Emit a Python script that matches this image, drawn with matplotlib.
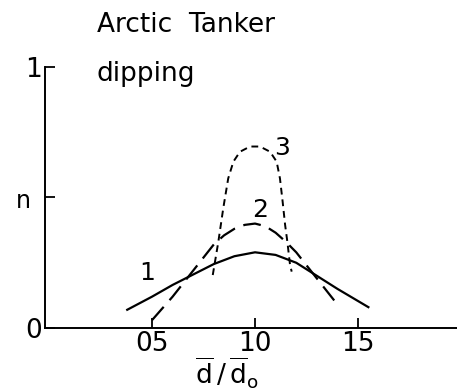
import matplotlib
matplotlib.use("Agg")
import matplotlib.pyplot as plt

# curve 1 (solid)
x1 = [0.38, 0.50, 0.60, 0.70, 0.80, 0.90, 1.00, 1.10, 1.20, 1.30, 1.40, 1.55]
y1 = [0.07, 0.12, 0.165, 0.205, 0.245, 0.275, 0.29, 0.28, 0.25, 0.20, 0.15, 0.08]

# curve 2 (long dashes)
x2 = [0.50, 0.60, 0.70, 0.80, 0.85, 0.90, 0.95, 1.00, 1.05, 1.10, 1.15, 1.20, 1.30, 1.40]
y2 = [0.03, 0.12, 0.22, 0.32, 0.355, 0.38, 0.395, 0.40, 0.39, 0.365, 0.33, 0.29, 0.19, 0.09]

# curve 3 (short dashes)
x3 = [0.795, 0.822, 0.846, 0.870, 0.895, 0.927, 0.976, 1.024, 1.073, 1.105, 1.121,
      1.134, 1.146, 1.157, 1.170, 1.178]
y3 = [0.203, 0.33, 0.459, 0.573, 0.637, 0.675, 0.695, 0.695, 0.675, 0.637, 0.573,
      0.484, 0.395, 0.33, 0.241, 0.216]

xticks = [0.5, 1.0, 1.5]
xticklabels = ["05", "10", "15"]
yticks = [0, 0.5, 1]
yticklabels = ["0", "", "1"]

fig = plt.figure(figsize=(4.57, 3.91), dpi=100)
ax = fig.add_axes([0.098, 0.161, 0.902, 0.668])

ax.plot(x1, y1, color="black", lw=1.6)
ax.plot(x2, y2, color="black", lw=1.6, dashes=(8, 4))
ax.plot(x3, y3, color="black", lw=1.4, dashes=(3.5, 2.5))

ax.set_xlim(-0.02, 1.98)
ax.set_ylim(0, 1)
ax.spines["top"].set_visible(False)
ax.spines["right"].set_visible(False)
ax.spines["left"].set_linewidth(1.4)
ax.spines["bottom"].set_linewidth(1.4)

ax.set_xticks(xticks)
ax.set_xticklabels(xticklabels, fontsize=19)
ax.set_yticks(yticks)
ax.set_yticklabels(yticklabels, fontsize=19)
ax.tick_params(direction="in", length=7, width=1.3, pad=2)

ax.text(0.475, 0.21, "1", fontsize=18, ha="center", va="center")
ax.text(1.024, 0.452, "2", fontsize=18, ha="center", va="center")
ax.text(1.13, 0.69, "3", fontsize=18, ha="center", va="center")

# x-axis label
fig.text(227 / 457, 1 - 373 / 391,
         r"$\overline{\mathrm{d}}\,/\,\overline{\mathrm{d}}_{\mathrm{o}}$",
         fontsize=19, ha="center", va="center")
fig.text(23 / 457, 1 - 201 / 391, "n", fontsize=17, ha="center", va="center")

fig.text(0.212, 0.935, "Arctic  Tanker", fontsize=19, va="center")
fig.text(0.212, 0.81, "dipping", fontsize=19, va="center")

fig.savefig("out.png", dpi=100)
